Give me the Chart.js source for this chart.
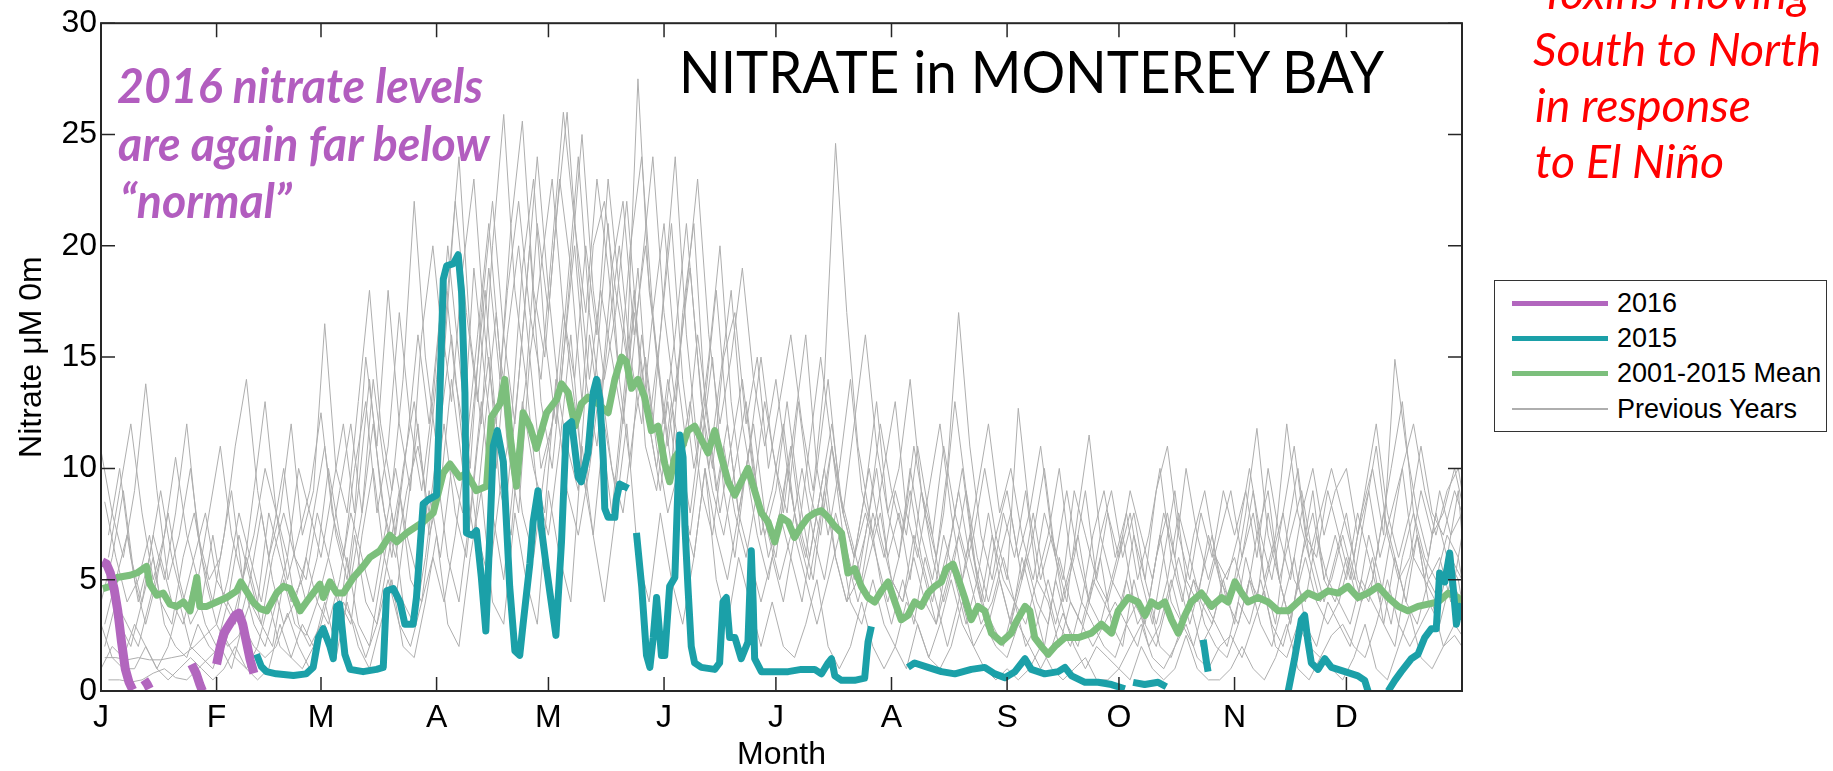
<!DOCTYPE html>
<html><head><meta charset="utf-8">
<script src="https://cdn.jsdelivr.net/npm/chart.js@4.4.1/dist/chart.umd.min.js"></script>
<style>
html,body{margin:0;padding:0;background:#fff;width:1833px;height:771px;overflow:hidden;position:relative;}
#c{position:absolute;left:0;top:0;}
.ann{position:absolute;white-space:nowrap;transform-origin:0 0;line-height:1;margin:0;padding:0;}
.ann .bm{display:inline-block;width:0;height:0;vertical-align:baseline;}
#legend{position:absolute;left:1494px;top:280px;width:333px;height:152px;border:1.5px solid #333;box-sizing:border-box;background:#fff;font-family:"Liberation Sans",Arial,sans-serif;font-size:27px;color:#000;}
.row{position:absolute;left:0;width:100%;height:30px;}
.sw{position:absolute;left:17px;width:96px;}
.lt{position:absolute;left:122px;top:0;line-height:30px;white-space:nowrap;}
</style></head><body>
<canvas id="c" width="1833" height="771"></canvas>
<div id="legend"></div>
<script>
// ---------- axis categories ----------
const monthStarts = [0,31,59,90,120,151,181,212,243,273,304,334];
const monthLabels = ['J','F','M','A','M','J','J','A','S','O','N','D'];
const yTicks = [0,5,10,15,20,25,30];

// ---------- 2016 ----------
const days2016 =    [0.3,1.5,2.5,3.5,4.5,5.5,6.5,7.5,8.5, 10, 11.6,12.4,13, 18, 24.3,25.5,26.5,27.2, 29, 31,32,33,34.5,36,37,38,39,40,41];
const nitrate2016 = [5.8,5.7,5.3,4.6,3.6,2.2,1.0,0.4,0.05,null,0.5,0.3,0.1,null,1.2,0.8,0.3,0,null,1.2,2.0,2.6,3.0,3.4,3.5,3.0,2.2,1.4,0.8];

// ---------- 2015 ----------
const days2015 = [41.7,43,44.4,47,51.6,55,56.9,58.3,59.6,61.4,62.3,63.2,64,65.4,66.8,70.3,73.9,75.7,76.6,78.4,80.2,81.5,83.7,84.6,86.4,87.8,90,90.9,91.8,92.7,94.5,95.8,96.7,97.6,98,99.5,100.7,102,103.2,104.3,105.2,106.3,107.9,109.6,111,112.3,113.2,115,115.9,117.2,118.1,119.5,120.4,122,123.5,124.8,126.2,128,128.8,130.6,132,132.9,133.8,134.7,135.1,136,137.8,138.2,139.1,141.4,142.5,
 143.6,145,146.3,147.2,148.1,149,150.3,151.2,152.5,153.9,155.2,156.1,156.6,157.4,158.3,159.2,161,164.6,165.9,166.8,167.7,168.6,170,171.7,173.5,174.4,174.9,175.3,177.1,180.7,184.3,187.8,191.4,193.2,195,195.9,196.8,198.6,202.1,204.8,205.7,206.6,211,
 216.4,218.2,221.8,225.4,229,233.4,237,239.7,242.4,245.1,247.8,249.5,253.1,256.7,258.5,260.3,263.9,267.4,271,274.6,275.7,276.8,279.9,283.5,285.7,290,295.6,296.5,296.9,308,
 318.4,320.1,321.9,322.8,323.7,324.6,326.4,328.2,330,333.6,337.1,338.9,339.8,342,345.2,347,348.7,351.4,353.2,355,356.8,358.1,359,360.4,361.7,362.6,363.5,364.4,365];
const nitrate2015 = [1.65,1.1,0.87,0.77,0.7,0.77,1.06,2.4,2.8,2.0,1.45,3.8,3.9,1.65,0.97,0.87,0.97,1.06,4.5,4.6,4.0,3.0,3.0,4.2,8.4,8.6,8.8,13.4,18.5,19.1,19.2,19.6,17.9,13.4,7.1,7.0,7.2,5.1,2.7,7.1,11.0,11.7,10.3,4.7,1.8,1.6,3.0,5.7,7.6,9.0,7.3,5.5,4.4,2.5,6.7,11.9,12.1,9.6,9.4,10.7,13.4,14.0,13.1,10.4,8.2,7.8,7.8,8.6,9.3,9.1,null,
 7.1,4.7,1.6,1.06,2.4,4.2,1.6,1.6,4.7,5.1,11.5,10.5,7.4,4.7,2.0,1.26,1.06,0.97,1.26,4.0,4.2,2.4,2.4,1.45,2.2,6.3,4.0,1.45,0.87,0.87,0.87,0.97,0.97,0.77,1.26,1.45,0.68,0.48,0.48,0.58,2.2,2.9,null,
 1.06,1.26,1.06,0.87,0.77,0.97,1.06,0.77,0.6,0.87,1.45,0.97,0.77,0.87,1.06,0.68,0.39,0.39,0.29,0.1,null,0.39,0.29,0.39,0.19,null,2.3,1.26,0.87,null,
 0,1.45,3.2,3.4,2.2,1.26,0.97,1.45,1.06,0.87,0.68,0.48,0,null,0,0.48,0.87,1.45,1.65,2.4,2.8,2.8,5.3,4.9,6.2,4.7,3.0,3.8,3.2];

// ---------- 2001-2015 mean ----------
const daysMean = [0.5,2.4,4.3,7.8,9.6,12.2,13.1,15,16.7,18.5,20.3,22.1,23.9,25.7,26.5,28.4,31,33.7,36.4,37.5,40.8,42.6,44.5,47.1,48.9,50.7,53.4,55.1,56.9,58.7,59.6,61.4,63.2,65,67.7,70.3,72.1,74.8,77.5,79.3,82,84.6,86.4,89.1,91.8,93.6,96.2,98,100.7,103.4,104.7,107,108.3,109.7,111.4,113.2,115,116.8,119.5,122.2,
 123.5,125.3,127.1,128.8,130.6,133.3,136,137.8,139.6,140.9,142.3,144,145.8,147.6,149.4,151.2,152.5,153.9,155.7,157.4,159.2,161,162.8,164.6,166.4,168.2,170,171.7,173.5,175.3,177.1,178.9,180.7,182.5,184.3,186,187.8,189.6,191.4,193.2,195,196.8,198.6,200.3,202.1,203.9,205.7,207.5,209.3,211.1,212.9,214.6,216.4,218.2,220,221.8,223.6,225.4,226.7,228.5,229.8,231.6,233.4,235.2,237,238.8,241.5,
 244.1,245.1,247.8,249.1,250.4,252.2,254,255.8,258.5,262.1,265.6,268.3,271,272.8,275.5,278.1,280,281.7,283.5,285.3,287.1,288.9,290.7,292.4,295.1,297.8,300.5,302.3,304.1,305.9,307.6,310.3,313,315.7,318.4,321,323.7,326.4,329.1,331.8,334.4,337.1,339.8,342.5,345.2,347.9,350.5,353.2,355.9,358.6,361.3,363.9,365];
const nitrateMean = [4.6,4.7,5.1,5.2,5.3,5.6,4.8,4.3,4.4,3.9,3.8,4.0,3.6,5.1,3.8,3.8,4.0,4.2,4.5,4.9,4.0,3.7,3.6,4.4,4.7,4.6,3.6,4.0,4.4,4.8,4.2,4.9,4.4,4.4,5.1,5.6,6.0,6.3,7.0,6.7,7.1,7.4,7.6,8.0,9.8,10.2,9.6,9.8,9.0,9.2,12.3,12.9,14.0,11.5,9.2,12.5,11.9,10.9,12.5,13.1,
 13.8,13.4,11.9,12.9,13.2,12.9,12.5,14.0,15.0,14.8,13.6,14.0,13.2,11.7,11.9,10.2,9.4,10.5,10.9,11.7,11.9,11.3,10.7,11.7,10.5,9.4,8.8,9.4,10.0,9.0,8.0,7.6,6.7,7.8,7.6,6.9,7.4,7.8,8.0,8.1,7.8,7.4,7.1,5.3,5.5,4.7,4.2,4.0,4.5,4.9,4.0,3.2,3.4,4.0,3.8,4.4,4.7,4.9,5.5,5.7,5.1,4.2,3.2,3.8,3.6,2.6,2.2,
 2.6,3.0,3.8,3.6,2.4,2.0,1.65,2.0,2.4,2.4,2.6,3.0,2.6,3.6,4.2,4.0,3.4,4.0,3.8,4.0,3.2,2.6,3.4,4.0,4.4,3.8,4.2,4.0,4.9,4.4,4.0,4.2,4.0,3.6,3.6,4.0,4.4,4.2,4.5,4.4,4.7,4.2,4.4,4.7,4.2,3.8,3.6,3.8,3.9,4.0,4.4,4.2,4.0];

// ---------- previous years (2001-2014), sampled every 3 days ----------
const greyStep = 3;
const prev01 = [10.8,8,6,9,13.8,9,5,7,10,6, 4,7,11,14,9,6,8,12,7,9, 16.5,10,8,13,18,12,9,14,22,15, 11,18,24,16,12,20,25.9,18,14,21, 17,23,19,13,20,22,18,15,27.5,18, 14,10,17,21,13,9,12,8,11,7, 9,12,8,6,10,14,9,7,5,8,6, 9,7,11,8,5,7,10,6,4,7, 5,12.7,8,5,7,4,6,9,5,4, 6,8,5,3,6,9,5,4,7,5, 4,6,9,5,3,7,10,6,4,5, 7,5,8,11,7,5,6,9,7,8,10,8.5];
const prev02 = [8.5,6,4,5,7,4,3,6,8,5, 3,5,8,6,4,7,10,6,5,8, 6,9,12,8,14,10,7,11,16,12, 17,13,19,23,16,12,18,22,17,14, 20,26,21,17,23,19,14,20,24,17, 12,16,21,15,10,14,18,12,9,13, 10,8,13,9,7,11,8,6,9,13,8, 6,10,7,5,8,13,9,6,4,6, 8,5,7,10,6,4,8,11.5,7,5, 4,7,5,3,5,8,6,4,3,5, 6,4,7,9,5,3,6,8,5,7, 5,8,6,4,7,10,6,5,8,6,9,7];
const prev03 = [5,3,2,4,6,3,2,1.5,3,2, 1.5,3,5,3,2,4,6,3,2,3, 5,3,7,4,3,6,9,5,4,8, 12,8,6,11,15,9,7,13,10,8, 14,11,9,16,12,8,13,18,11,9, 13,9,7,11,15,9,6,10,7,5, 8,6,4,7,10,6,4,5,8,5,3, 5,3,6,4,2,4,7,4,3,2, 4,2,3,5,3,2,4,3,2,1.5, 3,2,4,2,1.5,3,5,3,2,1.5, 3,5,3,2,4,6,3,2,4,3, 2,4,6,3,2,5,7,4,3,5,4,3];
const prev04 = [3,1.5,1,1,2,1,0.5,1,1.5,1, 0.5,1,2,1,0.5,1,3,1.5,1,2, 3,1.5,4,2,1,3,5,2,1.5,4, 7,3,2,6,9,4,3,8,5,3, 9,6,4,11,7,4,8,12,6,4, 8,5,3,6,10,5,3,6,4,2, 4,2,1.5,3,5,2,1,2,4,2,1, 2,1,3,1.5,1,2,4,2,1,0.5, 1,0.5,1,2,1,0.5,1,1.5,0.5,0.5, 1,0.5,2,1,0.5,1,2.5,1,0.5,0.5, 1,2,1,0.5,1.5,3,1,0.5,1.5,1, 0.5,1.5,3,1,0.5,2,3.5,1.5,1,2,2.5,2];
const prev05 = [1.5,1.5,1.4,1.5,1.4,1.4,1.5,1.6,2,2.5, 3,2,2.5,4,3,2,5,3,2.5,4, 6,4,3,7,10,6,4,8,12,7, 9,14,10,7,12,17,11,8,15,10, 12,17,13,9,15,21,14,10,16,12, 18,24,16,11,15,20,13,9,12,8, 6,10,7,5,8,11,7,5,7,10,6, 8,5,9,6,4,6,9,5,3,5, 3,6,4,2,5,3,2,4,6,3, 2,5,3,2,4,6,4,2,3,5, 3,6,4,8,5,3,6,9,5,4, 6,4,7,5,3,6,8,5,4,6,5,4];
const prev06 = [7,10,6,4,7,5,8,12,7,5, 6,9,5,7,10,8,5,7,9,12.5, 8,6,10,13,8,11,17,12,9,13, 19,14,11,16,21,15,12,19,23,16, 12,18,24,17,13,19,22,16,20,15, 11,15,19,13,10,15,17,12,15,10, 13,16,12,9,14,24.6,17,11,8,12,9, 7,11,8,6,10,17,11,7,5,8, 6,9,5,7,10,6,4,7,9,6, 8,5,7,10,6,4,7,9,6,5, 7,10,7,5,8,11,7,6,9,7, 5,8,10,7,14.9,11,8,6,9,7,8,7];
const prev07 = [4,6,9,5,3,5,8,5,3,4, 7,4,3,6,4,8,6,4,5,8, 11,7,5,9,14,9,6,10,13,9, 14,20,15,10,17,22,16,12,18,24, 18,13,19,25,18,14,17,22,16,12, 16,21,14,10,13,18,12,8,11,15, 11,8,12,16,10,7,10,14,9,7,10, 13,8,6,9,12,8,5,7,10,7, 9,6,8,11,7,5,9,7,5,8, 6,9,7,5,8,6,10,7,5,7, 9,6,8,5,7,12,8,6,8,10, 8,6,9,12,8,6,8,11,8,7,9,8];
const prev08 = [2,4,3,2,4,6,4,3,5,3, 2,4,3,5,8,5,3,4,6,4, 3,5,8,6,4,7,10,7,5,9, 6,10,8,13,18,12,9,14,20,13, 10,15,20,14,11,16,20,15,12,17, 21,15,11,16,12,8,11,14,10,7, 9,13,9,6,9,12,8,6,8,6,4, 6,9,6,4,7,5,3,5,8,5, 3,5,8,5,3,5,7,4,3,5, 7,4,3,6,8,5,3,5,7,4, 5,8,11.8,7,5,7,9,6,4,6, 8,5,4,7,10,13,8,6,5,7,6,5];
const prev09 = [6,9,12,8,5,7,10.5,7,5,8, 11,7,5,9,13,8,6,10,8,6, 9,12,8,15,11,18,12,9,16,20, 15,22,17,13,19,14,21,25.6,18,15, 21,26,19,14,18,15,12,17,13,10, 14,11,8,12,9,7,10,13,9,6, 8,11,7,5,9,6,4,7,10,7,5, 4,7,5,3,6,9,6,4,7,5, 4,6,4,3,6,4,3,5,4,3, 5,3,4,7,4,3,5,4,6,4, 3,5,4,6,8,5,4,7,5,4, 6,4,5,8,6,4,7,5,4,6,5,3];
const prev10 = [1,2,1.5,3,2,1,2,4,2,1.5, 1,2.5,1.5,1,2,4,2,1.5,3,2, 4,2,6,3,2,5,8,4,3,6, 10,6,4,8,13,8,5,10,14,9, 7,11,16,10,7,12,9,14,19,12, 9,13,8,6,10,7,5,8,6,4, 6,4,7,5,3,5,7,4,3,5,3, 2,4,3,1.5,3,5,3,2,3,2, 1.5,3,2,1,2,3.5,2,1,2,1.5, 1,2,3,1.5,1,2,3,1.5,1,2, 2.5,1.5,3,4.5,2,1.5,3,2,1.5,2.5, 3,2,1.5,3,5,3,2,3,4,2,3,2.5];
const prev11 = [3,5,7,4,6,9,6,4,6,8, 5,4,7,5,3,6,8,6,4,6, 10,7,5,8,12,8,6,9,11,8, 12,16,11,19,14,10,16,20,15,19, 23,17,14,20,16,23,18,14,19,24, 17,13,18,23,16,12,15,19,14,11, 14,10,7,11,15,11,8,12,16,11,8, 10,14,9,7,11,8,6,9,12,8, 10,7,5,8,6,9,6,4,7,9, 6,8,5,9,11,7,5,8,6,9, 7,9,6,10,7,5,8,10,7,9, 10,7,9,6,8,10,12,9,7,9,10,9];
const prev12 = [0.5,0.5,0.4,0.5,0.8,1,0.6,0.5,1,1.5, 2,1,3,2,1.5,2,3.5,2,1,2.5, 2,4,3,1.5,3,5,3,2,4,6, 4,7,11,7,5,9,12,8,6,10, 13,9,7,10,14,10,8,12,15,11, 8,10,13,9,7,11,8,6,9,7, 5,7,10,7,5,8,6,4,6,8,5, 4,6,4,3,5,7,5,3,4,6, 4,3,5,4,2,4,3,2,3,4, 3,4,2,3,5,3,2,4,3,2, 4,3,5,3,2,4,6,4,3,4, 3,5,4,3,6,4,3,5,6,4,7,6];
const previousYears = [prev01,prev02,prev03,prev04,prev05,prev06,prev07,prev08,prev09,prev10,prev11,prev12];

// ---------- labels / colours ----------
const seriesNames = ['2016','2015','2001-2015 Mean','Previous Years'];
const colPurple = '#B266BE', colTeal = '#1BA0A8', colGreen = '#7CBF7C', colGrey = '#AEAEAE';

const toXY = (xs, ys) => xs.map((d,i)=>({x:d, y:(ys[i]===undefined?null:ys[i])}));

const datasets = [
  {label:seriesNames[0], data:toXY(days2016,nitrate2016), borderColor:colPurple, borderWidth:9, order:0, legend:true},
  {label:seriesNames[1], data:toXY(days2015,nitrate2015), borderColor:colTeal, borderWidth:7, order:1, legend:true},
  {label:seriesNames[2], data:toXY(daysMean,nitrateMean), borderColor:colGreen, borderWidth:7, order:2, legend:true},
];
previousYears.forEach((arr,k)=>{
  // each year sampled on its own 3-day grid (start offset 0, 1 or 2 days)
  const days = arr.map((_,i)=>Math.min(i*greyStep + (k%3), 365));
  datasets.push({label:seriesNames[3], data:toXY(days,arr), borderColor:colGrey, borderWidth:1, order:3+k, legend:k===0});
});
datasets.forEach(d=>{d.pointRadius=0;d.tension=0;d.fill=false;d.spanGaps=false;d.borderJoinStyle='round';d.borderCapStyle='butt';});

const FONT = '"Liberation Sans", Arial, sans-serif';
const PLOT = {left:101, right:1462, top:19, bottom:691};

const framePlugin = {
  id:'frame',
  afterDraw(chart){
    const {ctx, chartArea:a, scales:{x,y}} = chart;
    ctx.save();
    ctx.strokeStyle='#262626'; ctx.lineWidth=1.5;
    const L=14;
    ctx.beginPath();
    monthStarts.forEach(v=>{
      const px=x.getPixelForValue(v);
      ctx.moveTo(px,a.bottom); ctx.lineTo(px,a.bottom-L);
      ctx.moveTo(px,a.top); ctx.lineTo(px,a.top+L);
    });
    yTicks.forEach(v=>{
      const py=y.getPixelForValue(v);
      ctx.moveTo(a.left,py); ctx.lineTo(a.left+L,py);
      ctx.moveTo(a.right,py); ctx.lineTo(a.right-L,py);
    });
    ctx.stroke();
    ctx.lineWidth=2;
    ctx.strokeRect(a.left,a.top,a.right-a.left,a.bottom-a.top);
    ctx.restore();
  }
};

const chart = new Chart(document.getElementById('c'), {
  type:'line',
  data:{datasets},
  options:{
    responsive:false, animation:false, devicePixelRatio:1,
    layout:{padding:{top:PLOT.top,right:1833-PLOT.right,left:0,bottom:0}},
    plugins:{legend:{display:false}, tooltip:{enabled:false}},
    scales:{
      x:{type:'linear', min:0, max:365,
         afterBuildTicks:ax=>{ax.ticks=monthStarts.map(v=>({value:v}));},
         afterFit:s=>{s.height=771-PLOT.bottom;},
         ticks:{autoSkip:false, maxRotation:0, padding:8, color:'#000', font:{family:FONT,size:32},
                callback:v=>monthLabels[monthStarts.indexOf(v)]},
         grid:{display:false, drawTicks:false}, border:{display:false},
         title:{display:true, text:'Month', color:'#000', font:{family:FONT,size:32,lineHeight:1}, padding:{top:0,bottom:0}}},
      y:{type:'linear', min:0, max:30,
         afterBuildTicks:ax=>{ax.ticks=yTicks.map(v=>({value:v}));},
         afterFit:s=>{s.width=PLOT.left;},
         ticks:{padding:4, color:'#000', font:{family:FONT,size:32}},
         grid:{display:false, drawTicks:false}, border:{display:false},
         title:{display:true, text:'Nitrate μM 0m', color:'#000', font:{family:FONT,size:32,lineHeight:1}, padding:{top:16,bottom:0}}}
    }
  },
  plugins:[framePlugin]
});

// ---------- HTML legend built from the datasets ----------
(function(){
  const box=document.getElementById('legend');
  const rowsY=[22,57,92,128];
  chart.data.datasets.filter(d=>d.legend).forEach((d,i)=>{
    const row=document.createElement('div'); row.className='row'; row.style.top=(rowsY[i]-15)+'px';
    const sw=document.createElement('div'); sw.className='sw';
    const h=d.borderWidth>2?5:1.2;
    sw.style.height=h+'px'; sw.style.top=(15-h/2)+'px'; sw.style.background=d.borderColor;
    const t=document.createElement('div'); t.className='lt'; t.textContent=d.label;
    row.appendChild(sw); row.appendChild(t); box.appendChild(row);
  });
})();

// ---------- annotations (real text) ----------
const noteTitle = ['NITRATE in MONTEREY BAY'];
const notePurple = ['2016 nitrate levels','are again far below','“normal”'];
const noteRed = ['Toxins moving','South to North','in response','to El Niño'];
function place(lines, opts){
  const els=lines.map((txt,i)=>{
    const d=document.createElement('div'); d.className='ann';
    d.style.font=opts.font; d.style.color=opts.color;
    const s=document.createElement('span'); s.textContent=txt;
    const b=document.createElement('span'); b.className='bm';
    d.appendChild(s); d.appendChild(b);
    d.style.left=opts.x[i]+'px'; d.style.top='0px';
    document.body.appendChild(d);
    return {d,s,b};
  });
  const ref=els[opts.widthIdx||0];
  const scale=opts.width/ref.s.getBoundingClientRect().width;
  els.forEach((e,i)=>{
    const base=e.b.offsetTop;
    e.d.style.top=(opts.base[i]-base)+'px';
    e.d.style.transform='scaleX('+scale+')';
  });
}
place(noteTitle,{font:'400 58px Lato',color:'#000',x:[679],base:[93],width:705});
place(notePurple,{font:'italic 700 48px Lato',color:'#B25DBF',x:[117,118,120],base:[103,161,218],width:366});
place(noteRed,{font:'italic 400 47px Lato',color:'#FF0000',x:[1540,1533,1535,1535],base:[9,66,122,178],width:288,widthIdx:1});
</script>
</body></html>
